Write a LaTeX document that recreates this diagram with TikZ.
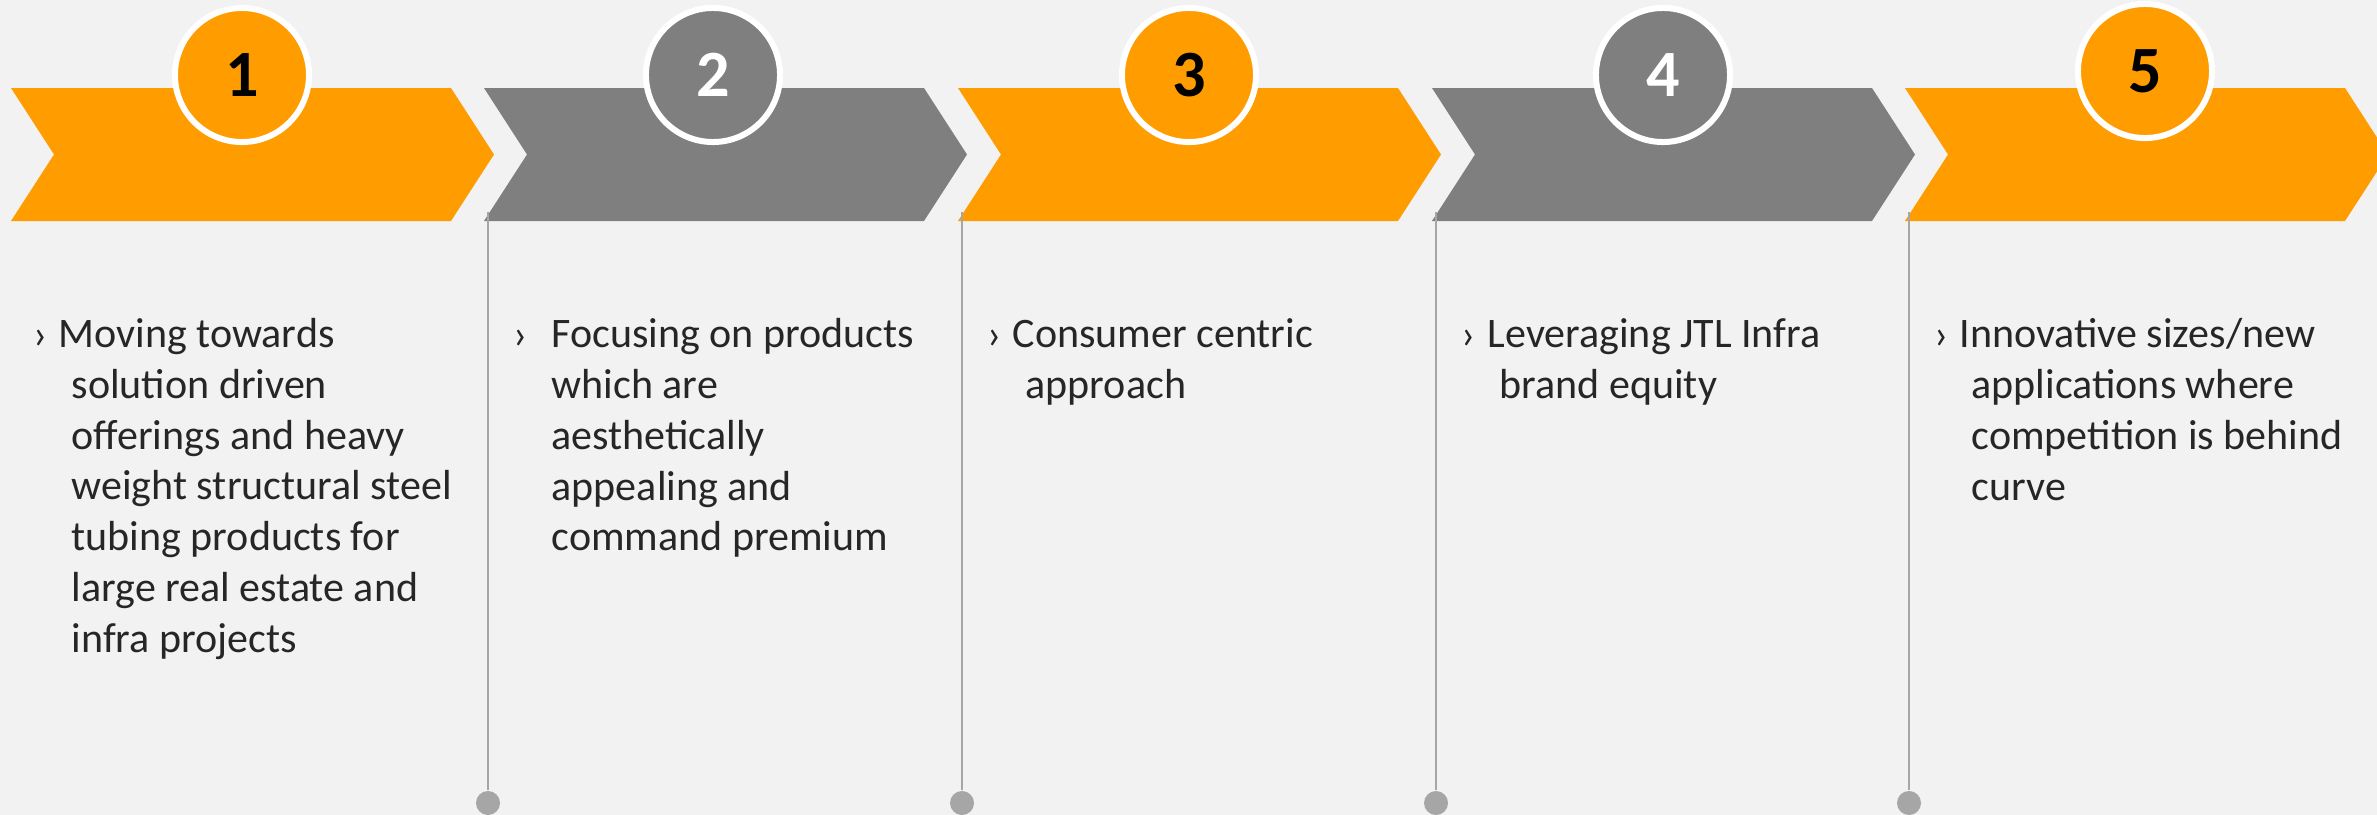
\documentclass[tikz,border=0pt]{standalone}
\usepackage{fontspec}
\setmainfont{Carlito}
\usepackage{xcolor}
\usetikzlibrary{positioning}
\definecolor{amber}{HTML}{FF9C00}
\definecolor{slate}{HTML}{7F7F7F}
\definecolor{stemgray}{HTML}{A6A6A6}
\definecolor{paper}{HTML}{F2F2F2}
\definecolor{ink}{HTML}{262626}

\begin{document}
\begin{tikzpicture}[x=0.01cm, y=-0.01cm,
  badge/.style={circle, draw=white, line width=0.06cm, minimum size=1.34cm, inner sep=0pt,
    font=\fontsize{18.8}{20}\selectfont\bfseries},
  bullet/.style={anchor=base west, inner sep=0pt, text=ink, font=\fontsize{11.95}{14.43}\selectfont},
  item/.style={anchor=base west, inner sep=0pt, align=left, text=ink,
    font=\fontsize{11.95}{14.43}\selectfont},
  stemline/.style={draw=stemgray, line width=0.022cm},
  dot/.style={circle, fill=stemgray, minimum size=0.24cm, inner sep=0pt}]
  \useasboundingbox (0,0) rectangle (2377,815);
  \clip (0,0) rectangle (2377,815);
  \fill[paper] (0,0) rectangle (2377,815);

  % chevrons
  \foreach \s/\c in {11/amber, 484/slate, 958/amber, 1432/slate, 1905/amber}
    \fill[\c] (\s,88) -- ++(440,0) -- ++(43,66.5) -- ++(-43,66.5) -- ++(-440,0) -- ++(43,-66.5) -- cycle;

  % stems with dots
  \foreach \x [count=\i from 2] in {488, 962, 1436, 1909} {
    \coordinate (s\i) at (\x,212);
    \node[dot] (d\i) at (\x,803) {};
    \draw[stemline] (s\i) -- (d\i);
  }

  % number badges
  \node[badge, fill=amber, text=black] (n1) at (242,75) {1};
  \node[badge, fill=slate, text=white] (n2) at (713,75) {2};
  \node[badge, fill=amber, text=black] (n3) at (1189,75) {3};
  \node[badge, fill=slate, text=white] (n4) at (1663,75) {4};
  \node[badge, fill=amber, text=black] (n5) at (2145,71) {5};

  % bullet texts (base = last line, 50.7 per line)
  \node[bullet] (b1) at (33,348) {›};
  \node[item] (t1) at (71,652.2) {\hspace*{-0.13cm}Moving towards\\solution driven\\offerings and heavy\\weight structural steel\\tubing products for\\large real estate and\\infra projects};
  \node[bullet] (b2) at (513,348) {›};
  \node[item] (t2) at (551,550.8) {Focusing on products\\which are\\aesthetically\\appealing and\\command premium};
  \node[bullet] (b3) at (987,348) {›};
  \node[item] (t3) at (1025,398.7) {\hspace*{-0.13cm}Consumer centric\\approach};
  \node[bullet] (b4) at (1461,348) {›};
  \node[item] (t4) at (1499,398.7) {\hspace*{-0.12cm}Leveraging JTL Infra\\brand equity};
  \node[bullet] (b5) at (1934,348) {›};
  \node[item] (t5) at (1971,500.1) {\hspace*{-0.12cm}Innovative sizes/new\\applications where\\competition is behind\\curve};
\end{tikzpicture}
\end{document}
